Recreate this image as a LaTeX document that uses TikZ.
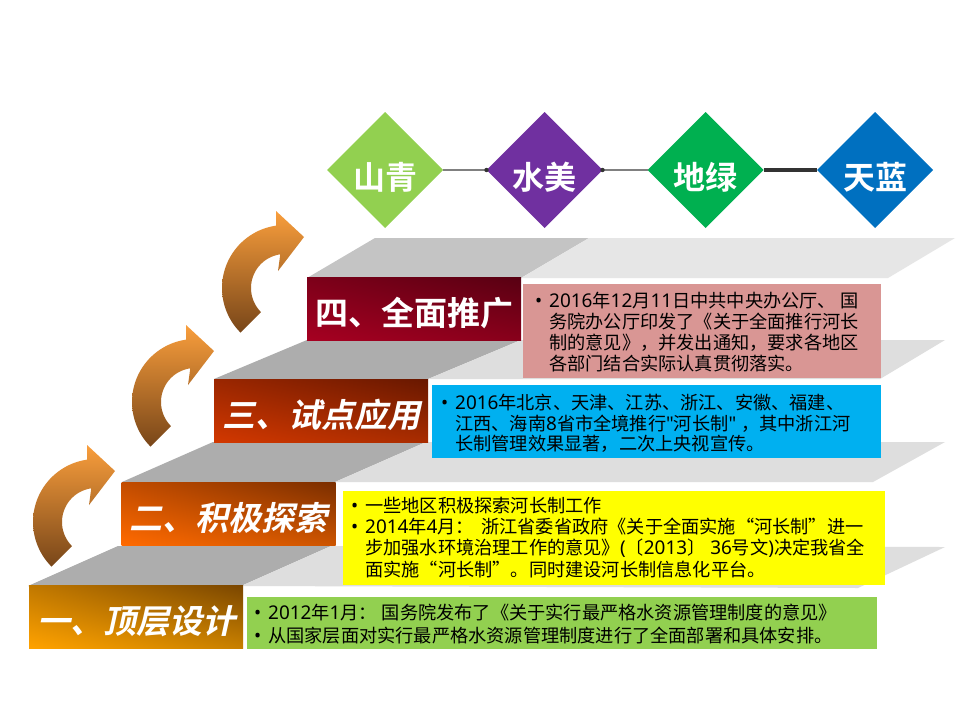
\documentclass[tikz,border=0pt]{standalone}
\usepackage{fontspec}
\setmainfont{Noto Sans CJK SC}
\newfontfamily\cjk{Noto Sans CJK SC}
\newfontfamily\cjkb{Noto Sans CJK SC Bold}
\newfontfamily\cjkbsl{Noto Sans CJK SC Bold}[FakeSlant=0.22]
\newfontfamily\latfont{Noto Sans}[Scale=1.04]
\newcommand{\lat}[1]{{\latfont #1}}
\usetikzlibrary{shapes.geometric,shadings}
\definecolor{trdA}{HTML}{C4C4C4}
\definecolor{trlA}{HTML}{E6E6E6}
\definecolor{trd}{HTML}{ADADAD}
\definecolor{trl}{HTML}{DEDEDE}
\definecolor{qing}{HTML}{92D050}
\definecolor{mei}{HTML}{7030A0}
\definecolor{lv}{HTML}{00B050}
\definecolor{lan}{HTML}{0070C0}
\definecolor{pinkbox}{HTML}{D99694}
\definecolor{bluebox}{HTML}{00B0F0}
\definecolor{yellowbox}{HTML}{FFFF00}
\definecolor{greenbox}{HTML}{92D050}
\definecolor{arrtop}{HTML}{F99E3C}
\definecolor{arrbot}{HTML}{784619}
\definecolor{darkline}{HTML}{333333}
\definecolor{grayline}{HTML}{808080}
\newcommand{\mybul}{\llap{{\latfont •}\hspace{7pt}}}
\tikzset{
  dia/.style={diamond, minimum width=116, minimum height=116, inner sep=0, outer sep=0, draw=none},
  dtext/.style={font=\cjkb\fontsize{32}{32}\selectfont, text=white, inner sep=0},
  stepbox/.style={inner sep=0, outer sep=0, minimum width=214, minimum height=63, text=white,
     font=\cjkbsl\fontsize{33}{33}\selectfont, text height=34, text depth=0},
  infobox/.style={inner sep=0, outer sep=0, anchor=north west, draw=none},
  btxt/.style={font=\cjk\fontsize{18.2}{21}\selectfont, anchor=base west, inner sep=0, text=black},
  arrowshape/.style={top color=arrtop, bottom color=arrbot, draw=none},
  thinlink/.style={draw=grayline, line width=1.6},
  thicklink/.style={draw=darkline, line width=4},
  linkdot/.style={fill=darkline}
}
\begin{document}
\begin{tikzpicture}[x=1pt,y=-1pt]
\useasboundingbox (0,0) rectangle (960,720);
\fill[white] (0,0) rectangle (960,720);

% ---- treads ----
\fill[trdA] (307,278) -- (375,238) -- (589,238) -- (521,278) -- cycle;
\fill[trlA] (521,278) -- (589,238) -- (955,238) -- (888,278) -- cycle;
\fill[trd] (214,379) -- (307,340) -- (521,340) -- (428,379) -- cycle;
\fill[trl] (428,379) -- (521,340) -- (945,340) -- (880,379) -- cycle;
\fill[trd] (122,482) -- (213,442) -- (426,442) -- (335,482) -- cycle;
\fill[trl] (335,482) -- (426,442) -- (945,442) -- (873,482) -- cycle;
\fill[trd] (28,586) -- (118,546) -- (331,546) -- (241,586) -- cycle;
\fill[trl] (241,586) -- (331,546) -- (945,547) -- (858,588) -- cycle;

% ---- step fronts ----
\node[stepbox, font=\cjkb\fontsize{33}{33}\selectfont,
  lower left={rgb,255:red,166;green,0;blue,33}, upper right={rgb,255:red,88;green,0;blue,18},
  upper left={rgb,255:red,124;green,0;blue,25}, lower right={rgb,255:red,136;green,0;blue,27}]
  (r4) at (414,308.5) {四、全面推广};
\node[stepbox,
  lower left={rgb,255:red,210;green,56;blue,0}, upper right={rgb,255:red,104;green,24;blue,0},
  upper left={rgb,255:red,154;green,38;blue,0}, lower right={rgb,255:red,168;green,44;blue,0}]
  (r3) at (321,410.5) {三、试点应用};
\node[stepbox,
  lower left={rgb,255:red,255;green,106;blue,0}, upper right={rgb,255:red,122;green,46;blue,0},
  upper left={rgb,255:red,194;green,76;blue,0}, lower right={rgb,255:red,204;green,84;blue,0}]
  (r2) at (228.5,513.5) {二、积极探索};
\node[stepbox,
  lower left={rgb,255:red,255;green,162;blue,0}, upper right={rgb,255:red,122;green,70;blue,0},
  upper left={rgb,255:red,192;green,120;blue,0}, lower right={rgb,255:red,200;green,128;blue,0}]
  (r1) at (136,616.5) {一、顶层设计};

% ---- info boxes ----
\node[infobox, fill=pinkbox, minimum width=358, minimum height=94] (b4) at (523,284) {};
\node[infobox, fill=bluebox, minimum width=449, minimum height=73] (b3) at (432,385) {};
\node[infobox, fill=yellowbox, minimum width=542, minimum height=94] (b2) at (343,491) {};
\node[infobox, fill=greenbox, minimum width=630, minimum height=52] (b1) at (247,597) {};

\node[btxt] (b4a) at (549,307.5) {\mybul \lat{2016}年\lat{12}月\lat{11}日中共中央办公厅、\lat{ }国};
\node[btxt] (b4b) at (549,328.5) {务院办公厅印发了《关于全面推行河长};
\node[btxt] (b4c) at (549,349.5) {制的意见》，并发出通知，要求各地区};
\node[btxt] (b4d) at (549,370.5) {各部门结合实际认真贯彻落实。};

\node[btxt] (b3a) at (455,409.5) {\mybul \lat{2016}年北京、天津、江苏、浙江、安徽、福建、};
\node[btxt] (b3b) at (455,430) {江西、海南\lat{8}省市全境推行\lat{"}河长制\lat{" }，其中浙江河};
\node[btxt] (b3c) at (455,450.5) {长制管理效果显著，二次上央视宣传。};

\node[btxt] (b2a) at (365,512.5) {\mybul 一些地区积极探索河长制工作};
\node[btxt] (b2b) at (365,533.5) {\mybul \lat{2014}年\lat{4}月：\hspace{0.4em}浙江省委省政府《关于全面实施“河长制”进一};
\node[btxt] (b2c) at (365,554.5) {步加强水环境治理工作的意见》\lat{(}〔\lat{2013}〕\lat{ 36}号文\lat{)}决定我省全};
\node[btxt] (b2d) at (365,576) {面实施“河长制”。同时建设河长制信息化平台。};

\node[btxt] (b1a) at (268,619) {\mybul \lat{2012}年\lat{1}月：\lat{ }国务院发布了《关于实行最严格水资源管理制度的意见》};
\node[btxt] (b1b) at (268,642) {\mybul 从国家层面对实行最严格水资源管理制度进行了全面部署和具体安排。};

% ---- curved arrows ----
\foreach \cx/\cy in {285/288, 195/402, 96/522}{
  \begin{scope}[shift={(\cx,\cy)}]
    \shade[arrowshape]
      plot[domain=135:262, samples=40] ({63*cos(\x)},{63*sin(\x)})
      -- (-9,-77) -- (19,-51) -- (-7,-17)
      -- plot[domain=262:135, samples=40] ({34*cos(\x)},{34*sin(\x)})
      -- cycle;
  \end{scope}
}

% ---- diamonds ----
\node[dia, fill=qing] (d1) at (385,170) {};
\node[dia, fill=mei] (d2) at (544.5,170) {};
\node[dia, fill=lv] (d3) at (705.5,170) {};
\node[dia, fill=lan] (d4) at (875,170) {};
\draw[thinlink] (d1.east) -- (d2.west);
\draw[thinlink] (d2.east) -- (d3.west);
\draw[thicklink] (d3.east) -- (d4.west);
\fill[linkdot] (d2.west) circle (2.2);
\fill[linkdot] (d2.east) circle (2.2);
\node[dtext] (t1) at (385,177) {山青};
\node[dtext] (t2) at (544.5,177) {水美};
\node[dtext] (t3) at (705.5,177) {地绿};
\node[dtext] (t4) at (875,177) {天蓝};
\end{tikzpicture}
\end{document}
